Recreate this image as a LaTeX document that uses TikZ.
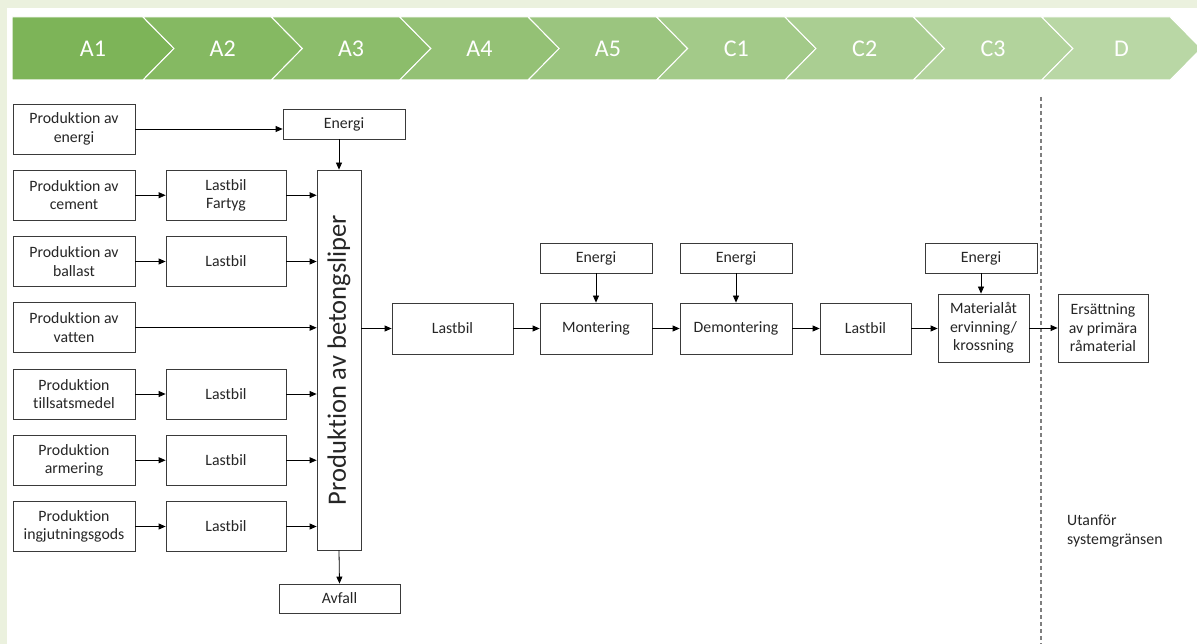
\documentclass[tikz,border=0pt]{standalone}
\usepackage{fontspec}
\setmainfont{Carlito}[Ligatures=NoCommon]
\usetikzlibrary{arrows.meta}
\definecolor{bggreen}{HTML}{EBF1DE}
\definecolor{cA}{RGB}{125,180,88}
\definecolor{cD}{RGB}{185,215,165}
\definecolor{txt}{HTML}{262626}
\definecolor{edge}{HTML}{3A3A3A}
\definecolor{dashgray}{HTML}{7F7F7F}
\begin{document}
\begin{tikzpicture}[x=1pt,y=-1pt,
  font=\fontsize{15.8}{18.5}\selectfont,
  box/.style={draw=edge,line width=0.8pt,align=center,inner sep=0pt,text=txt,fill=white},
  prod/.style={box,minimum width=122pt,minimum height=50pt},
  lbox/.style={box,minimum width=120pt,minimum height=50pt},
  ebox/.style={box,minimum width=112pt,minimum height=30pt},
  arr/.style={-{Triangle[length=7pt,width=6pt]},line width=0.8pt,draw=black},
  chevlab/.style={text=white,font=\fontsize{24}{28}\selectfont,inner sep=0pt},
  boundary/.style={draw=dashgray,line width=1.3pt,dash pattern=on 4pt off 3pt}]
\useasboundingbox (0,0) rectangle (1197,644);
\fill[bggreen] (0,0) rectangle (1197,644);
\fill[white] (7,8) rectangle (1197,644);
% chevrons
\foreach \k/\lab in {0/A1,1/A2,2/A3,3/A4,4/A5,5/C1,6/C2,7/C3,8/D}{
  \pgfmathsetmacro{\nl}{143+128.4*(\k-1)}
  \pgfmathsetmacro{\nr}{143+128.4*\k}
  \pgfmathtruncatemacro{\p}{round(12.5*\k)}
  \colorlet{chev}{cD!\p!cA}
  \ifnum\k=0
    \filldraw[fill=chev,draw=white,line width=1pt] (12,17) -- (\nr,17) -- ({\nr+31},48.5) -- (\nr,80) -- (12,80) -- cycle;
    \node[chevlab] (ch\k) at (93,48.5) {\lab};
  \else
    \filldraw[fill=chev,draw=white,line width=1pt] (\nl,17) -- (\nr,17) -- ({\nr+31},48.5) -- (\nr,80) -- (\nl,80) -- ({\nl+31},48.5) -- cycle;
    \node[chevlab] (ch\k) at ({\nl+79.7},48.5) {\lab};
  \fi
}
% left column
\node[prod] (p1) at (74,129) {Produktion av\\energi};
\node[prod] (p2) at (74,195.25) {Produktion av\\cement};
\node[prod] (p3) at (74,261.5) {Produktion av\\ballast};
\node[prod] (p4) at (74,327.75) {Produktion av\\vatten};
\node[prod] (p5) at (74,394) {Produktion\\tillsatsmedel};
\node[prod] (p6) at (74,460.25) {Produktion\\armering};
\node[prod] (p7) at (74,526.5) {Produktion\\ingjutningsgods};
% transport column
\node[lbox] (t2) at (226,195.25) {Lastbil\\Fartyg};
\node[lbox] (t3) at (226,261.5) {Lastbil};
\node[lbox] (t5) at (226,394) {Lastbil};
\node[lbox] (t6) at (226,460.25) {Lastbil};
\node[lbox] (t7) at (226,526.5) {Lastbil};
% production
\node[box,minimum width=122pt,minimum height=30pt] (etop) at (344,124) {Energi};
\node[box,minimum width=44pt,minimum height=380pt] (bet) at (339,360) {};
\node[text=txt,rotate=90,font=\fontsize{26.5}{30}\selectfont,inner sep=0pt] (betlab) at (bet.center) {Produktion av betongsliper};
\node[box,minimum width=121pt,minimum height=29pt] (avf) at (339.5,598.5) {Avfall};
% main row
\node[box,minimum width=121pt,minimum height=51pt] (m1) at (452.5,328.5) {Lastbil};
\node[box,minimum width=112pt,minimum height=51pt] (mont) at (596,328.5) {Montering};
\node[box,minimum width=112pt,minimum height=51pt] (demo) at (736,328.5) {Demontering};
\node[box,minimum width=91pt,minimum height=51pt] (m2) at (865.5,328.5) {Lastbil};
\node[box,minimum width=91pt,minimum height=68pt] (mat) at (983.5,328) {Materialåt\\ervinning/\\krossning};
\node[box,minimum width=90pt,minimum height=68pt] (ers) at (1103,328) {Ersättning\\av primära\\råmaterial};
\node[ebox] (e1) at (596,258) {Energi};
\node[ebox] (e2) at (736,258) {Energi};
\node[ebox] (e3) at (981,258) {Energi};
% boundary
\coordinate (dtop) at (1041,97);
\coordinate (dbot) at (1041,644);
\draw[boundary] (dtop) -- (dbot);
\node[text=txt,align=left,anchor=west,inner sep=0pt] (utan) at (1067,531) {Utanför\\systemgränsen};
% arrows
\draw[arr] (p1.east) -- (p1.east -| etop.west);
\draw[arr] (bet.north |- etop.south) -- (bet.north);
\foreach \i in {2,3,5,6,7}{
  \draw[arr] (p\i.east) -- (t\i.west);
  \draw[arr] (t\i.east) -- (t\i.east -| bet.west);
}
\draw[arr] (p4.east) -- (p4.east -| bet.west);
\draw[arr] (bet.south) -- (avf.north);
\draw[arr] (m1.west -| bet.east) -- (m1.west);
\draw[arr] (m1.east) -- (mont.west);
\draw[arr] (mont.east) -- (demo.west);
\draw[arr] (demo.east) -- (m2.west);
\draw[arr] (m2.east) -- (m2.east -| mat.west);
\draw[arr] (mat.east) -- (ers.west);
\draw[arr] (e1.south) -- (mont.north);
\draw[arr] (e2.south) -- (demo.north);
\draw[arr] (e3.south) -- (e3.south |- mat.north);
\end{tikzpicture}
\end{document}
